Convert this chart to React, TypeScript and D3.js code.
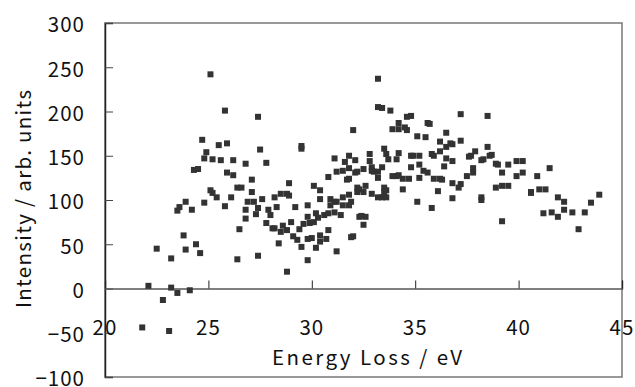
import React, { useEffect, useRef } from 'react';
import * as d3 from 'd3';

// energy loss (eV) and intensity (arb. units)
const energy = [
  21.8, 23.1, 22.1, 22.5, 22.8, 23.2, 23.2, 23.5, 23.5, 23.6, 23.8, 23.9, 23.9, 24.1, 24.2, 24.3, 24.5, 24.4, 24.6, 24.8,
  24.7, 24.9, 24.8, 25.1, 25.2, 25.1, 25.2, 25.4, 25.5, 25.6, 25.8, 25.8, 25.9, 25.9, 26.1, 26.2, 26.2, 26.4, 26.4, 26.6,
  26.5, 26.8, 26.8, 26.8, 26.9, 27.1, 27.1, 27.2, 27.3, 27.4, 27.4, 27.4, 27.5, 27.6, 27.8, 27.8, 27.9, 28.0, 28.1, 28.2,
  28.2, 28.3, 28.4, 28.5, 28.5, 28.6, 28.8, 28.8, 28.8, 28.9, 28.9, 29.0, 29.1, 29.2, 29.3, 29.4, 29.5, 29.5, 29.5, 29.6,
  29.8, 29.8, 29.8, 29.9, 30.0, 29.8, 30.1, 30.1, 30.2, 30.2, 30.3, 30.4, 30.4, 30.4, 30.4, 30.6, 30.8, 30.8, 30.8, 30.7,
  30.9, 30.9, 31.1, 31.2, 31.1, 31.1, 31.2, 31.2, 31.5, 31.5, 31.5, 31.4, 31.6, 31.7, 31.8, 31.8, 31.8, 31.8, 31.8, 31.9,
  31.9, 32.0, 32.0, 32.1, 32.1, 32.2, 32.2, 32.3, 32.2, 32.3, 32.4, 32.6, 32.5, 32.5, 32.6, 32.5, 32.8, 32.8, 32.9, 32.9,
  33.0, 32.9, 33.2, 33.2, 33.2, 33.2, 33.2, 33.4, 33.4, 33.4, 33.5, 33.6, 33.5, 33.6, 33.6, 33.5, 33.8, 33.9, 34.2, 34.2,
  34.5, 34.6, 33.7, 34.1, 34.2, 33.9, 34.1, 34.2, 34.4, 34.7, 34.4, 34.6, 34.8, 34.8, 34.9, 35.2, 34.8, 35.2, 35.2, 35.1,
  35.1, 35.5, 35.6, 35.7, 35.4, 35.6, 35.8, 35.9, 35.9, 35.8, 36.2, 36.2, 36.1, 36.2, 36.3, 36.4, 36.5, 36.5, 36.5, 36.8,
  37.2, 36.7, 36.8, 36.8, 36.8, 37.1, 37.2, 37.2, 37.5, 37.6, 37.7, 37.8, 37.8, 37.9, 38.2, 38.2, 38.2, 38.3, 38.5, 38.5,
  38.6, 38.7, 38.9, 39.0, 38.9, 39.2, 39.2, 39.2, 39.5, 39.5, 39.9, 40.2, 39.9, 40.2, 40.6, 40.6, 40.9, 41.0, 41.3, 41.2,
  41.5, 41.6, 41.9, 41.9, 42.2, 42.2, 42.6, 42.9, 43.2, 43.5, 43.9,
];
const intensity = [
  -44, -48, 3, 45, -13, 34, 1, -5, 88, 92, 60, 44, 98, -2, 89, 134, 135, 50, 40, 97,
  168, 154, 147, 242, 146, 111, 108, 103, 162, 145, 201, 93, 131, 164, 103, 145, 128, 33, 114, 114,
  67, 141, 89, 79, 98, 123, 109, 98, 84, 91, 194, 37, 157, 101, 142, 74, 89, 83, 68, 68,
  103, 92, 51, 107, 64, 71, 107, 66, 19, 119, 105, 75, 59, 92, 55, 67, 158, 161, 47, 73,
  94, 81, 32, 74, 57, 56, 75, 116, 85, 46, 80, 53, 111, 101, 60, 83, 85, 126, 66, 56,
  101, 94, 98, 98, 86, 147, 42, 132, 133, 103, 94, 83, 143, 123, 124, 150, 136, 106, 94, 98,
  58, 59, 179, 145, 131, 132, 114, 112, 109, 81, 82, 81, 72, 109, 116, 135, 144, 152, 137, 133,
  132, 107, 237, 205, 103, 132, 125, 204, 137, 103, 158, 152, 114, 111, 103, 109, 201, 180, 180, 187,
  182, 179, 146, 146, 153, 127, 127, 128, 124, 124, 112, 194, 195, 150, 150, 150, 137, 140, 125, 98,
  172, 171, 187, 186, 133, 131, 152, 150, 124, 91, 166, 155, 110, 124, 123, 138, 147, 176, 160, 163,
  167, 164, 144, 119, 102, 114, 118, 197, 127, 149, 150, 136, 131, 155, 103, 100, 145, 146, 195, 160,
  150, 151, 141, 140, 114, 76, 131, 116, 140, 116, 144, 144, 127, 131, 108, 109, 127, 112, 112, 85,
  136, 86, 81, 103, 98, 89, 86, 67, 86, 97, 106,
];
const xTicks = [20, 25, 30, 35, 40, 45];
const yTicks = [-100, -50, 0, 50, 100, 150, 200, 250, 300];

const W = 635, H = 387;
const FONT = '"Noto Sans CJK JP", "DejaVu Sans", sans-serif';

export default function App() {
  const ref = useRef<SVGSVGElement>(null);

  useEffect(() => {
    const svg = d3.select(ref.current);
    svg.selectAll('*').remove();

    const x = d3.scaleLinear().domain([20, 45]).range([105, 622]);
    const y = d3.scaleLinear().domain([-100, 300]).range([377, 23]);
    const [x0, x1] = x.range();
    const [yb, yt] = y.range();

    // frame
    svg.append('rect').attr('x', x0).attr('y', yt).attr('width', x1 - x0).attr('height', yb - yt)
      .attr('fill', 'none').attr('stroke', '#777').attr('stroke-width', 1.5);

    // y axis on the left, ticks pointing in
    const ya = svg.append('g').attr('transform', `translate(${x0},0)`)
      .call(d3.axisRight(y).tickValues(yTicks).tickSize(8).tickFormat(() => ''));
    ya.select('.domain').attr('stroke', '#222').attr('stroke-width', 1.5);
    ya.selectAll('.tick line').attr('stroke', '#444');

    svg.append('g').selectAll('text').data(yTicks).join('text')
      .attr('x', 85).attr('y', d => y(d) + 2).attr('dy', '0.36em').attr('text-anchor', 'end')
      .attr('font-family', FONT).attr('font-size', 20.5).attr('letter-spacing', 1).attr('fill', '#111')
      .text(d => d3.format('d')(d).replace('-', '\u2212'));

    // x axis along zero, ticks pointing up
    const xa = svg.append('g').attr('transform', `translate(0,${y(0)})`)
      .call(d3.axisTop(x).tickValues(xTicks).tickSize(8).tickFormat(() => ''));
    xa.select('.domain').attr('stroke', '#555').attr('stroke-width', 1.5);
    xa.selectAll('.tick line').attr('stroke', '#222');

    svg.append('g').selectAll('text').data(xTicks).join('text')
      .attr('x', d => x(d)).attr('y', 328).attr('dy', '0.36em').attr('text-anchor', 'middle')
      .attr('font-family', FONT).attr('font-size', 20.5).attr('letter-spacing', 1).attr('fill', '#111')
      .text(d => d);

    // points
    const pts = energy.map((e, i) => [e, intensity[i]]);
    const s = 6;
    svg.append('g').selectAll('rect').data(pts).join('rect')
      .attr('x', d => x(d[0]) - s / 2).attr('y', d => y(d[1]) - s / 2)
      .attr('width', s).attr('height', s).attr('fill', '#333');

    // titles
    svg.append('text').attr('x', 272).attr('y', 358).attr('dy', '0.36em')
      .attr('textLength', 190).attr('lengthAdjust', 'spacing')
      .attr('font-family', FONT).attr('font-size', 20.5).attr('fill', '#111')
      .text('Energy Loss / eV');
    svg.append('text').attr('transform', `translate(24,308) rotate(-90)`).attr('dy', '0.36em')
      .attr('textLength', 218).attr('lengthAdjust', 'spacing')
      .attr('font-family', FONT).attr('font-size', 20.5).attr('fill', '#111')
      .text('Intensity / arb. units');
  }, []);

  return (
    <svg ref={ref} width={W} height={H}
      style={{ position: 'absolute', left: 0, top: 0, background: '#fff' }} />
  );
}
